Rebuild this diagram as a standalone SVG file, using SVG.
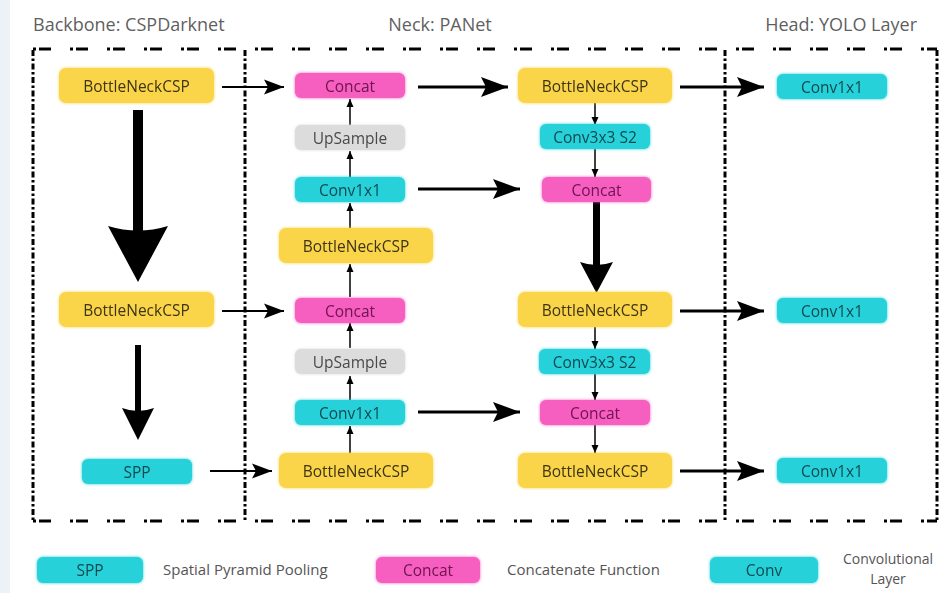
<svg xmlns="http://www.w3.org/2000/svg" width="943" height="593" viewBox="0 0 943 593">
<style>
  .title{font-family:"Open Sans","Noto Sans","Liberation Sans",sans-serif;font-size:18px;fill:#5f5f5f}
  .lbl{font-family:"Open Sans","Noto Sans","Liberation Sans",sans-serif;font-size:15.5px;text-anchor:middle;dominant-baseline:central}
  .leg{font-family:"Open Sans","Noto Sans","Liberation Sans",sans-serif;font-size:15px;fill:#555}
  .leg2{font-family:"Open Sans","Noto Sans","Liberation Sans",sans-serif;font-size:14px;fill:#555}
  .y rect{fill:#fad54a}
  .y text{fill:#3d3414}
  .p rect{fill:#f65fbf}
  .p text{fill:#6e1250}
  .c rect{fill:#27d1d9}
  .c text{fill:#0f4a50}
  .g rect{fill:#dcdcdc}
  .g text{fill:#4a4a4a}
  .hb{fill:none;stroke:#000;stroke-width:3.2;stroke-dasharray:3 3 12 19}
  .vb{fill:none;stroke:#000;stroke-width:3;stroke-dasharray:6 2.5 2.5 2.5}
  .thin{stroke:#000;stroke-width:1.5;fill:none;marker-end:url(#mThin)}
  .med{stroke:#000;stroke-width:2;fill:none;marker-end:url(#mMed)}
  .big{stroke:#000;stroke-width:3;fill:none;marker-end:url(#mBig)}
</style>
<defs>
  <filter id="glow" x="-20%" y="-40%" width="140%" height="180%">
    <feGaussianBlur in="SourceGraphic" stdDeviation="1.6" result="b"/>
    <feMerge><feMergeNode in="b"/><feMergeNode in="SourceGraphic"/></feMerge>
  </filter>
  <marker id="mThin" markerUnits="userSpaceOnUse" markerWidth="9" markerHeight="8" refX="8" refY="4" orient="auto">
    <path d="M0,0.5 L8,4 L0,7.5 Z" fill="#000"/>
  </marker>
  <marker id="mMed" markerUnits="userSpaceOnUse" markerWidth="21" markerHeight="16" refX="20" refY="8" orient="auto">
    <path d="M0,0.5 L20,8 L0,15.5 L4,8 Z" fill="#000"/>
  </marker>
  <marker id="mBig" markerUnits="userSpaceOnUse" markerWidth="28" markerHeight="22" refX="27" refY="11" orient="auto">
    <path d="M0,1 L27,11 L0,21 L5,11 Z" fill="#000"/>
  </marker>
</defs>
<rect x="0" y="0" width="943" height="593" fill="#ffffff"/>
<rect x="0" y="0" width="10" height="593" fill="#edf2f6"/>

<g id="titles">
  <text class="title" x="33" y="31">Backbone: CSPDarknet</text>
  <text class="title" x="440" y="31" text-anchor="middle">Neck: PANet</text>
  <text class="title" x="917" y="31" text-anchor="end">Head: YOLO Layer</text>
</g>

<g id="frames">
  <line class="hb" x1="33" y1="49" x2="937" y2="49"/>
  <line class="hb" x1="33" y1="521" x2="937" y2="521"/>
  <line class="vb" x1="33" y1="50" x2="33" y2="520"/>
  <line class="vb" x1="245" y1="50" x2="245" y2="520"/>
  <line class="vb" x1="725" y1="50" x2="725" y2="520"/>
  <line class="vb" x1="937" y1="50" x2="937" y2="520"/>
</g>

<g id="connectors">
  <rect x="133" y="110" width="10" height="122" fill="#000"/>
  <path d="M108,226 Q138,235 168,226 L138,282 Z" fill="#000"/>
  <rect x="135" y="345" width="6" height="68" fill="#000"/>
  <path d="M122,408 Q138,414 154,408 L138,440 Z" fill="#000"/>
  <rect x="593" y="202" width="7" height="64" fill="#000"/>
  <path d="M580,262 Q596.5,268 613,262 L596.5,293 Z" fill="#000"/>
  <line class="med" x1="222" y1="87" x2="284" y2="87"/>
  <line class="med" x1="222" y1="311" x2="284" y2="311"/>
  <line class="med" x1="210" y1="471" x2="272" y2="471"/>
  <line class="thin" x1="350" y1="228" x2="350" y2="203"/>
  <line class="thin" x1="350" y1="177" x2="350" y2="151"/>
  <line class="thin" x1="350" y1="125" x2="350" y2="99"/>
  <line class="thin" x1="350" y1="297" x2="350" y2="264"/>
  <line class="thin" x1="350" y1="400" x2="350" y2="376"/>
  <line class="thin" x1="350" y1="348" x2="350" y2="323"/>
  <line class="thin" x1="350" y1="453" x2="350" y2="426"/>
  <line class="big" x1="418" y1="87" x2="508" y2="87"/>
  <line class="big" x1="418" y1="189" x2="520" y2="189"/>
  <line class="big" x1="418" y1="412" x2="520" y2="412"/>
  <line class="thin" x1="595" y1="102" x2="595" y2="125"/>
  <line class="thin" x1="595" y1="148" x2="595" y2="177"/>
  <line class="thin" x1="595" y1="325" x2="595" y2="349"/>
  <line class="thin" x1="595" y1="373" x2="595" y2="400"/>
  <line class="thin" x1="595" y1="425" x2="595" y2="453"/>
  <line class="big" x1="680" y1="87" x2="764" y2="87"/>
  <line class="big" x1="680" y1="311" x2="764" y2="311"/>
  <line class="big" x1="680" y1="471" x2="764" y2="471"/>
</g>

<g id="bb_bn1" class="y" filter="url(#glow)"><rect x="59" y="68" width="155" height="35" rx="7"/><text class="lbl" x="136.5" y="86">BottleNeckCSP</text></g>
<g id="bb_bn2" class="y" filter="url(#glow)"><rect x="59" y="292" width="155" height="35" rx="7"/><text class="lbl" x="136.5" y="310">BottleNeckCSP</text></g>
<g id="bb_spp" class="c" filter="url(#glow)"><rect x="82" y="459" width="110" height="25" rx="6"/><text class="lbl" x="137" y="471.5">SPP</text></g>

<g id="n1_concat1" class="p" filter="url(#glow)"><rect x="295" y="73" width="110" height="25" rx="6"/><text class="lbl" x="350" y="85.5">Concat</text></g>
<g id="n1_up1" class="g" filter="url(#glow)"><rect x="295" y="125" width="110" height="25" rx="6"/><text class="lbl" x="350" y="137.5">UpSample</text></g>
<g id="n1_conv1" class="c" filter="url(#glow)"><rect x="295" y="177" width="110" height="25" rx="6"/><text class="lbl" x="350" y="189.5">Conv1x1</text></g>
<g id="n1_bn1" class="y" filter="url(#glow)"><rect x="279" y="228" width="154" height="35" rx="7"/><text class="lbl" x="356" y="246">BottleNeckCSP</text></g>
<g id="n1_concat2" class="p" filter="url(#glow)"><rect x="295" y="298" width="110" height="25" rx="6"/><text class="lbl" x="350" y="310.5">Concat</text></g>
<g id="n1_up2" class="g" filter="url(#glow)"><rect x="295" y="349" width="110" height="25" rx="6"/><text class="lbl" x="350" y="361.5">UpSample</text></g>
<g id="n1_conv2" class="c" filter="url(#glow)"><rect x="295" y="400" width="110" height="25" rx="6"/><text class="lbl" x="350" y="412.5">Conv1x1</text></g>
<g id="n1_bn2" class="y" filter="url(#glow)"><rect x="279" y="453" width="154" height="35" rx="7"/><text class="lbl" x="356" y="471">BottleNeckCSP</text></g>

<g id="n2_bn1" class="y" filter="url(#glow)"><rect x="518" y="68" width="154" height="35" rx="7"/><text class="lbl" x="595" y="86">BottleNeckCSP</text></g>
<g id="n2_conv1" class="c" filter="url(#glow)"><rect x="540" y="124" width="110" height="25" rx="6"/><text class="lbl" x="595" y="136.5">Conv3x3 S2</text></g>
<g id="n2_concat1" class="p" filter="url(#glow)"><rect x="542" y="177" width="109" height="25" rx="6"/><text class="lbl" x="596.5" y="189.5">Concat</text></g>
<g id="n2_bn2" class="y" filter="url(#glow)"><rect x="518" y="292" width="154" height="35" rx="7"/><text class="lbl" x="595" y="310">BottleNeckCSP</text></g>
<g id="n2_conv2" class="c" filter="url(#glow)"><rect x="539" y="349" width="111" height="25" rx="6"/><text class="lbl" x="594.5" y="361.5">Conv3x3 S2</text></g>
<g id="n2_concat2" class="p" filter="url(#glow)"><rect x="540" y="400" width="110" height="25" rx="6"/><text class="lbl" x="595" y="412.5">Concat</text></g>
<g id="n2_bn3" class="y" filter="url(#glow)"><rect x="518" y="453" width="154" height="35" rx="7"/><text class="lbl" x="595" y="471">BottleNeckCSP</text></g>

<g id="h_conv1" class="c" filter="url(#glow)"><rect x="777" y="74" width="110" height="25" rx="6"/><text class="lbl" x="832" y="86.5">Conv1x1</text></g>
<g id="h_conv2" class="c" filter="url(#glow)"><rect x="777" y="298" width="110" height="25" rx="6"/><text class="lbl" x="832" y="310.5">Conv1x1</text></g>
<g id="h_conv3" class="c" filter="url(#glow)"><rect x="777" y="458" width="110" height="25" rx="6"/><text class="lbl" x="832" y="470.5">Conv1x1</text></g>

<g id="legend">
  <g id="leg_spp" class="c" filter="url(#glow)"><rect x="37" y="557" width="106" height="26" rx="6"/><text class="lbl" x="90" y="570">SPP</text></g>
  <text class="leg" x="163" y="575">Spatial Pyramid Pooling</text>
  <g id="leg_concat" class="p" filter="url(#glow)"><rect x="376" y="557" width="104" height="26" rx="6"/><text class="lbl" x="428" y="570">Concat</text></g>
  <text class="leg" x="507" y="575">Concatenate Function</text>
  <g id="leg_conv" class="c" filter="url(#glow)"><rect x="710" y="557" width="108" height="26" rx="6"/><text class="lbl" x="764" y="570">Conv</text></g>
  <text class="leg2" x="888" y="564" text-anchor="middle">Convolutional</text>
  <text class="leg2" x="888" y="584" text-anchor="middle">Layer</text>
</g>
</svg>
